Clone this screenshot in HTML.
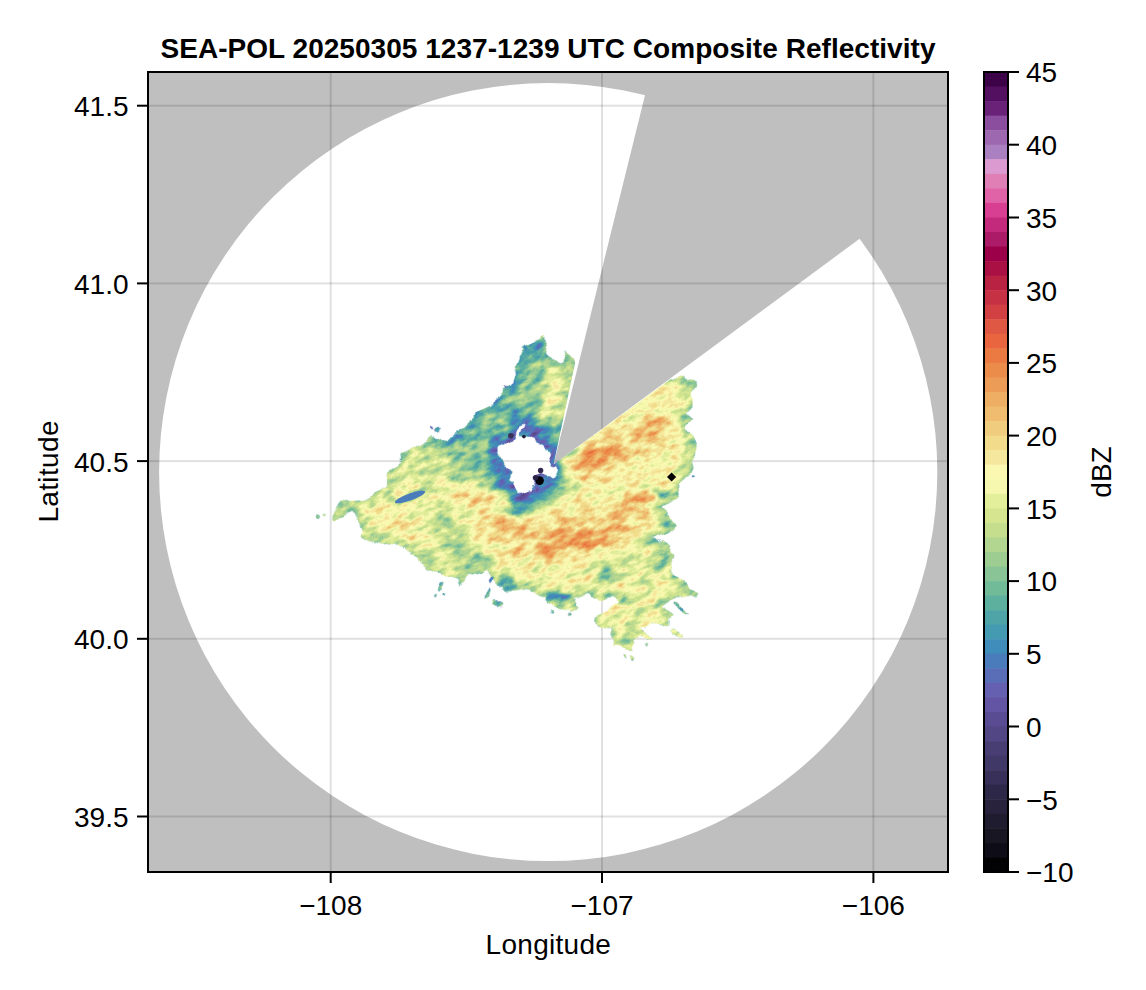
<!DOCTYPE html>
<html><head><meta charset="utf-8"><title>SEA-POL Composite Reflectivity</title>
<style>
html,body{margin:0;padding:0;background:#fff;}
body{width:1146px;height:990px;overflow:hidden;}
svg{display:block;}
text{font-family:"Liberation Sans",Arial,Helvetica,sans-serif;font-size:28px;fill:#000;}
.t{font-weight:bold;}
</style></head><body>
<svg width="1146" height="990" viewBox="0 0 1146 990">
<defs>
<clipPath id="ax"><rect x="148" y="72" width="800" height="800"/></clipPath>
</defs>
<rect width="1146" height="990" fill="#fff"/>

<g clip-path="url(#ax)">
<rect x="148" y="72" width="800" height="800" fill="#bfbfbf"/>
<ellipse cx="548.2" cy="472.1" rx="389.1" ry="389.0" fill="#fff"/>
<polygon points="553.6,464.5 672.1,-14.3 948,72 949.3,172.6" fill="#bfbfbf"/>
<rect x="329.7" y="72" width="2" height="800" fill="#000" fill-opacity="0.12"/>
<rect x="601.0" y="72" width="2" height="800" fill="#000" fill-opacity="0.12"/>
<rect x="872.4" y="72" width="2" height="800" fill="#000" fill-opacity="0.12"/>
<rect x="148" y="815.5" width="800" height="2" fill="#000" fill-opacity="0.12"/>
<rect x="148" y="637.8" width="800" height="2" fill="#000" fill-opacity="0.12"/>
<rect x="148" y="460.1" width="800" height="2" fill="#000" fill-opacity="0.12"/>
<rect x="148" y="282.4" width="800" height="2" fill="#000" fill-opacity="0.12"/>
<rect x="148" y="104.7" width="800" height="2" fill="#000" fill-opacity="0.12"/>
<defs>
<filter id="b3" x="-50%" y="-50%" width="200%" height="200%"><feGaussianBlur stdDeviation="3"/></filter>
<filter id="b5" x="-50%" y="-50%" width="200%" height="200%"><feGaussianBlur stdDeviation="5"/></filter>
<filter id="b8" x="-50%" y="-50%" width="200%" height="200%"><feGaussianBlur stdDeviation="8"/></filter>
<filter id="b12" x="-50%" y="-50%" width="200%" height="200%"><feGaussianBlur stdDeviation="12"/></filter>
<clipPath id="echoPoly"><path clip-rule="evenodd" d="M334.0 510.0 L349.0 501.5 L368.0 497.0 L385.0 488.0 L387.0 475.5 L401.0 463.0 L401.0 454.0 L413.5 450.5 L427.0 440.0 L445.0 438.0 L456.5 433.5 L468.0 422.0 L479.0 413.0 L490.5 408.5 L499.5 395.0 L513.0 381.0 L515.5 367.5 L521.0 358.5 L521.0 349.5 L533.5 342.5 L546.0 332.5 L548.0 345.0 L545.0 356.0 L561.0 363.0 L567.5 348.5 L574.5 365.5 L620.0 360.0 L676.5 379.5 L691.0 379.5 L693.5 388.0 L689.0 406.0 L684.5 410.5 L693.5 420.0 L688.0 426.5 L696.0 445.0 L694.5 458.5 L689.0 469.5 L679.0 483.0 L680.0 498.0 L660.5 509.5 L677.5 522.0 L674.0 529.0 L654.0 539.0 L665.0 546.0 L676.5 557.0 L674.0 571.0 L683.5 580.0 L688.0 591.0 L696.0 593.5 L694.5 599.0 L687.0 600.0 L679.0 594.5 L661.0 607.0 L674.0 620.5 L661.0 625.0 L642.5 629.5 L650.5 636.5 L633.5 639.0 L634.5 649.0 L613.0 643.5 L611.0 629.5 L599.5 620.5 L608.5 607.0 L619.8 602.5 L611.0 599.0 L592.5 600.0 L586.0 593.5 L574.5 598.0 L579.0 607.0 L572.0 609.0 L545.0 606.0 L542.7 595.7 L533.6 589.0 L520.0 586.6 L508.0 590.0 L499.5 588.0 L493.0 580.0 L484.0 568.5 L468.0 573.0 L459.0 586.5 L456.5 580.0 L440.5 575.5 L430.5 567.5 L422.5 559.5 L411.0 553.5 L397.5 544.5 L378.5 544.5 L364.5 535.5 L362.5 525.5 L349.0 516.5 L334.0 517.5Z M523.0 424.8 L518.7 424.8 L516.7 439.9 L506.4 441.9 L500.2 451.2 L503.2 462.5 L504.2 469.7 L511.5 476.0 L509.4 483.1 L515.7 485.1 L520.8 494.4 L532.1 491.4 L534.1 484.1 L533.1 477.0 L539.3 472.8 L545.4 477.0 L551.7 476.0 L555.7 469.7 L553.7 464.5 L547.6 464.5 L550.6 452.2 L543.4 440.9 L535.1 441.9 L522.8 436.8Z"/></clipPath>
<clipPath id="noWedge"><path d="M300 300 H588.5 L553.6 464.5 L800 284.7 V700 H300 Z"/></clipPath>
<filter id="cm" filterUnits="userSpaceOnUse" x="250" y="220" width="560" height="520" color-interpolation-filters="sRGB">
<feTurbulence type="fractalNoise" baseFrequency="0.075 0.15" numOctaves="3" seed="7" result="t"/>
<feColorMatrix in="t" type="matrix" values="1 0 0 0 0  1 0 0 0 0  1 0 0 0 0  0 0 0 0 1" result="n"/>
<feTurbulence type="fractalNoise" baseFrequency="0.05" numOctaves="2" seed="3" result="t2"/>
<feDisplacementMap in="SourceGraphic" in2="t2" scale="16" xChannelSelector="R" yChannelSelector="G" result="sg"/>
<feColorMatrix in="sg" type="matrix" values="0 0 0 0 0  0 0 0 0 0  0 0 0 0 0  0 0 0 1 0" result="sa"/>
<feComposite in="sg" in2="n" operator="arithmetic" k1="0" k2="1" k3="0.24" k4="-0.12" result="f"/>
<feComponentTransfer in="f" result="c">
<feFuncR type="discrete" tableValues="0.008 0.055 0.094 0.125 0.157 0.180 0.220 0.251 0.282 0.322 0.353 0.392 0.400 0.353 0.290 0.251 0.267 0.306 0.369 0.447 0.533 0.620 0.698 0.769 0.839 0.894 0.961 0.984 0.961 0.949 0.941 0.941 0.933 0.925 0.925 0.922 0.910 0.875 0.827 0.776 0.725 0.671 0.608 0.671 0.769 0.847 0.878 0.878 0.863 0.671 0.616 0.545 0.416 0.329 0.239"/>
<feFuncG type="discrete" tableValues="0.008 0.047 0.086 0.110 0.133 0.157 0.188 0.220 0.243 0.275 0.298 0.329 0.376 0.431 0.486 0.549 0.604 0.643 0.690 0.733 0.769 0.804 0.839 0.871 0.902 0.937 0.973 0.973 0.910 0.863 0.800 0.737 0.682 0.612 0.549 0.478 0.396 0.345 0.251 0.196 0.133 0.063 0.000 0.106 0.165 0.247 0.388 0.498 0.608 0.502 0.408 0.306 0.133 0.063 0.012"/>
<feFuncB type="discrete" tableValues="0.016 0.086 0.133 0.188 0.235 0.282 0.345 0.400 0.455 0.518 0.573 0.643 0.690 0.722 0.737 0.729 0.690 0.651 0.620 0.596 0.588 0.573 0.565 0.557 0.565 0.612 0.682 0.698 0.620 0.549 0.494 0.439 0.392 0.337 0.294 0.259 0.247 0.263 0.267 0.267 0.263 0.271 0.282 0.408 0.486 0.573 0.659 0.710 0.816 0.753 0.690 0.620 0.471 0.376 0.286"/>
</feComponentTransfer>
<feComposite in="c" in2="sa" operator="in"/>
</filter>
</defs>
<g clip-path="url(#noWedge)"><g transform="rotate(-24 550 470)"><g filter="url(#cm)"><g transform="rotate(24 550 470)">
<g clip-path="url(#echoPoly)">
<rect x="300" y="300" width="460" height="380" fill="#808080"/>
<path d="M334.0 510.0 L349.0 501.5 L368.0 497.0 L385.0 488.0 L387.0 475.5 L401.0 463.0 L401.0 454.0 L413.5 450.5 L427.0 440.0 L445.0 438.0 L456.5 433.5 L468.0 422.0 L479.0 413.0 L490.5 408.5 L499.5 395.0 L513.0 381.0 L515.5 367.5 L521.0 358.5 L521.0 349.5 L533.5 342.5 L546.0 332.5 L548.0 345.0 L545.0 356.0 L561.0 363.0 L567.5 348.5 L574.5 365.5 L620.0 360.0 L676.5 379.5 L691.0 379.5 L693.5 388.0 L689.0 406.0 L684.5 410.5 L693.5 420.0 L688.0 426.5 L696.0 445.0 L694.5 458.5 L689.0 469.5 L679.0 483.0 L680.0 498.0 L660.5 509.5 L677.5 522.0 L674.0 529.0 L654.0 539.0 L665.0 546.0 L676.5 557.0 L674.0 571.0 L683.5 580.0 L688.0 591.0 L696.0 593.5 L694.5 599.0 L687.0 600.0 L679.0 594.5 L661.0 607.0 L674.0 620.5 L661.0 625.0 L642.5 629.5 L650.5 636.5 L633.5 639.0 L634.5 649.0 L613.0 643.5 L611.0 629.5 L599.5 620.5 L608.5 607.0 L619.8 602.5 L611.0 599.0 L592.5 600.0 L586.0 593.5 L574.5 598.0 L579.0 607.0 L572.0 609.0 L545.0 606.0 L542.7 595.7 L533.6 589.0 L520.0 586.6 L508.0 590.0 L499.5 588.0 L493.0 580.0 L484.0 568.5 L468.0 573.0 L459.0 586.5 L456.5 580.0 L440.5 575.5 L430.5 567.5 L422.5 559.5 L411.0 553.5 L397.5 544.5 L378.5 544.5 L364.5 535.5 L362.5 525.5 L349.0 516.5 L334.0 517.5Z" fill="none" stroke="#666666" stroke-width="14" filter="url(#b5)"/>
<polygon points="430.0,450.0 546.0,325.0 585.0,360.0 560.0,450.0 540.0,505.0 480.0,505.0 450.0,480.0" fill="#616161" filter="url(#b8)" opacity="1"/>
<ellipse cx="552" cy="398" rx="12" ry="36" transform="rotate(14 552 398)" fill="#797979" filter="url(#b5)" opacity="1"/>
<polyline points="440.0,445.0 470.0,422.0 497.0,398.0 515.0,370.0 522.0,350.0" fill="none" stroke="#4c4c4c" stroke-width="14" stroke-linecap="round" stroke-linejoin="round" filter="url(#b5)" opacity="1"/>
<ellipse cx="535" cy="347" rx="12" ry="9" transform="rotate(0 535 347)" fill="#464646" filter="url(#b3)" opacity="1"/>
<ellipse cx="430" cy="470" rx="30" ry="18" transform="rotate(-25 430 470)" fill="#6f6f6f" filter="url(#b8)" opacity="1"/>
<path d="M523.0 424.8 L518.7 424.8 L516.7 439.9 L506.4 441.9 L500.2 451.2 L503.2 462.5 L504.2 469.7 L511.5 476.0 L509.4 483.1 L515.7 485.1 L520.8 494.4 L532.1 491.4 L534.1 484.1 L533.1 477.0 L539.3 472.8 L545.4 477.0 L551.7 476.0 L555.7 469.7 L553.7 464.5 L547.6 464.5 L550.6 452.2 L543.4 440.9 L535.1 441.9 L522.8 436.8Z" fill="none" stroke="#5d5d5d" stroke-width="46" stroke-linejoin="round" filter="url(#b5)"/>
<path d="M523.0 424.8 L518.7 424.8 L516.7 439.9 L506.4 441.9 L500.2 451.2 L503.2 462.5 L504.2 469.7 L511.5 476.0 L509.4 483.1 L515.7 485.1 L520.8 494.4 L532.1 491.4 L534.1 484.1 L533.1 477.0 L539.3 472.8 L545.4 477.0 L551.7 476.0 L555.7 469.7 L553.7 464.5 L547.6 464.5 L550.6 452.2 L543.4 440.9 L535.1 441.9 L522.8 436.8Z" fill="none" stroke="#4a4a4a" stroke-width="22" stroke-linejoin="round" filter="url(#b3)"/>
<path d="M523.0 424.8 L518.7 424.8 L516.7 439.9 L506.4 441.9 L500.2 451.2 L503.2 462.5 L504.2 469.7 L511.5 476.0 L509.4 483.1 L515.7 485.1 L520.8 494.4 L532.1 491.4 L534.1 484.1 L533.1 477.0 L539.3 472.8 L545.4 477.0 L551.7 476.0 L555.7 469.7 L553.7 464.5 L547.6 464.5 L550.6 452.2 L543.4 440.9 L535.1 441.9 L522.8 436.8Z" fill="none" stroke="#3a3a3a" stroke-width="8" stroke-linejoin="round" filter="url(#b3)"/>
<ellipse cx="615" cy="450" rx="58" ry="16" transform="rotate(-24 615 450)" fill="#8d8d8d" filter="url(#b8)" opacity="1"/>
<ellipse cx="592" cy="461" rx="28" ry="9" transform="rotate(-22 592 461)" fill="#9b9b9b" filter="url(#b5)" opacity="1"/>
<ellipse cx="655" cy="430" rx="16" ry="9" transform="rotate(-30 655 430)" fill="#929292" filter="url(#b5)" opacity="1"/>
<ellipse cx="668" cy="395" rx="14" ry="10" transform="rotate(0 668 395)" fill="#828282" filter="url(#b5)" opacity="1"/>
<ellipse cx="565" cy="533" rx="85" ry="17" transform="rotate(-4 565 533)" fill="#8b8b8b" filter="url(#b8)" opacity="1"/>
<ellipse cx="580" cy="540" rx="46" ry="10" transform="rotate(-14 580 540)" fill="#9b9b9b" filter="url(#b5)" opacity="1"/>
<ellipse cx="620" cy="515" rx="30" ry="8" transform="rotate(-25 620 515)" fill="#909090" filter="url(#b5)" opacity="1"/>
<ellipse cx="505" cy="525" rx="25" ry="8" transform="rotate(10 505 525)" fill="#909090" filter="url(#b5)" opacity="1"/>
<ellipse cx="478" cy="498" rx="30" ry="9" transform="rotate(12 478 498)" fill="#909090" filter="url(#b5)" opacity="1"/>
<ellipse cx="640" cy="500" rx="14" ry="7" transform="rotate(-10 640 500)" fill="#949494" filter="url(#b3)" opacity="1"/>
<ellipse cx="450" cy="535" rx="16" ry="36" transform="rotate(-22 450 535)" fill="#666666" filter="url(#b8)" opacity="1"/>
<ellipse cx="478" cy="560" rx="14" ry="8" transform="rotate(0 478 560)" fill="#5d5d5d" filter="url(#b5)" opacity="1"/>
<ellipse cx="625" cy="570" rx="40" ry="22" transform="rotate(0 625 570)" fill="#747474" filter="url(#b8)" opacity="1"/>
<ellipse cx="607" cy="574" rx="8" ry="8" transform="rotate(0 607 574)" fill="#585858" filter="url(#b3)" opacity="1"/>
<ellipse cx="662" cy="560" rx="8" ry="10" transform="rotate(0 662 560)" fill="#616161" filter="url(#b3)" opacity="1"/>
<ellipse cx="660" cy="492" rx="7" ry="5" transform="rotate(0 660 492)" fill="#535353" filter="url(#b3)" opacity="1"/>
<ellipse cx="668" cy="522" rx="7" ry="5" transform="rotate(0 668 522)" fill="#585858" filter="url(#b3)" opacity="1"/>
<ellipse cx="643" cy="542" rx="10" ry="5" transform="rotate(-20 643 542)" fill="#5d5d5d" filter="url(#b3)" opacity="1"/>
<ellipse cx="689" cy="419" rx="3" ry="2.5" transform="rotate(0 689 419)" fill="#535353" filter="url(#b3)" opacity="1"/>
<ellipse cx="691" cy="446" rx="3" ry="4" transform="rotate(0 691 446)" fill="#4f4f4f" filter="url(#b3)" opacity="1"/>
<ellipse cx="688" cy="468" rx="2.5" ry="2.5" transform="rotate(0 688 468)" fill="#4a4a4a" filter="url(#b3)" opacity="1"/>
<ellipse cx="660.7" cy="493.6" rx="5" ry="3" transform="rotate(-20 660.7 493.6)" fill="#464646" filter="url(#b3)" opacity="1"/>
<ellipse cx="557" cy="597" rx="15" ry="5" transform="rotate(0 557 597)" fill="#414141" filter="url(#b3)" opacity="1"/>
<ellipse cx="625" cy="599" rx="5" ry="4" transform="rotate(0 625 599)" fill="#414141" filter="url(#b3)" opacity="1"/>
<ellipse cx="505" cy="582" rx="6" ry="6" transform="rotate(0 505 582)" fill="#4a4a4a" filter="url(#b3)" opacity="1"/>
<ellipse cx="635" cy="622" rx="28" ry="18" transform="rotate(0 635 622)" fill="#7b7b7b" filter="url(#b5)" opacity="1"/>
<ellipse cx="628" cy="632" rx="6" ry="10" transform="rotate(20 628 632)" fill="#616161" filter="url(#b3)" opacity="1"/>
<ellipse cx="640" cy="612" rx="4" ry="6" transform="rotate(0 640 612)" fill="#616161" filter="url(#b3)" opacity="1"/>
<ellipse cx="615" cy="615" rx="10" ry="4" transform="rotate(0 615 615)" fill="#8b8b8b" filter="url(#b3)" opacity="1"/>
<ellipse cx="410" cy="497" rx="16" ry="3.6" transform="rotate(-20 410 497)" fill="#424242" filter="url(#b3)" opacity="1"/>
</g>
<ellipse cx="317.5" cy="516.5" rx="2.5" ry="2.5" transform="rotate(0 317.5 516.5)" fill="#616161"/>
<ellipse cx="325" cy="511" rx="2.5" ry="1.5" transform="rotate(0 325 511)" fill="#6b6b6b"/>
<ellipse cx="436" cy="432" rx="3" ry="2" transform="rotate(-40 436 432)" fill="#535353"/>
<ellipse cx="431" cy="430" rx="1.5" ry="3" transform="rotate(-15 431 430)" fill="#464646"/>
<ellipse cx="438.5" cy="586" rx="2" ry="5" transform="rotate(35 438.5 586)" fill="#585858"/>
<ellipse cx="445" cy="593" rx="2" ry="2" transform="rotate(0 445 593)" fill="#585858"/>
<ellipse cx="433" cy="596" rx="2" ry="2.5" transform="rotate(30 433 596)" fill="#535353"/>
<ellipse cx="488" cy="594" rx="3" ry="5" transform="rotate(20 488 594)" fill="#585858"/>
<ellipse cx="499" cy="604" rx="4" ry="3.5" transform="rotate(0 499 604)" fill="#616161"/>
<ellipse cx="492" cy="582" rx="2" ry="4" transform="rotate(30 492 582)" fill="#464646"/>
<ellipse cx="570.5" cy="613.5" rx="2" ry="2" transform="rotate(0 570.5 613.5)" fill="#616161"/>
<ellipse cx="575" cy="609" rx="5" ry="2" transform="rotate(0 575 609)" fill="#6b6b6b"/>
<ellipse cx="551" cy="614" rx="2" ry="2" transform="rotate(0 551 614)" fill="#616161"/>
<ellipse cx="682" cy="607" rx="8" ry="2.5" transform="rotate(38 682 607)" fill="#585858"/>
<ellipse cx="676" cy="632" rx="7" ry="3.5" transform="rotate(35 676 632)" fill="#747474"/>
<ellipse cx="643.5" cy="644.5" rx="2" ry="2" transform="rotate(0 643.5 644.5)" fill="#6f6f6f"/>
<ellipse cx="622" cy="655.5" rx="1.5" ry="2" transform="rotate(0 622 655.5)" fill="#6b6b6b"/>
<ellipse cx="632" cy="655" rx="3" ry="2" transform="rotate(20 632 655)" fill="#747474"/>
<ellipse cx="692" cy="474" rx="2" ry="1.5" transform="rotate(0 692 474)" fill="#4f4f4f"/>
<ellipse cx="524" cy="350" rx="2" ry="2" transform="rotate(0 524 350)" fill="#414141"/>
<ellipse cx="505" cy="388" rx="1.5" ry="1" transform="rotate(0 505 388)" fill="#3c3c3c"/>
</g></g></g></g>
<ellipse cx="410" cy="497" rx="16" ry="3.4" transform="rotate(-20 410 497)" fill="#4a7cbc"/>
<circle cx="539.6" cy="480.6" r="4.3" fill="#05030a"/>
<circle cx="535.5" cy="477.5" r="2.6" fill="#2a2244"/>
<circle cx="540.6" cy="470.4" r="2.7" fill="#33294e"/>
<circle cx="510.8" cy="435.8" r="2.8" fill="#3a3058"/>
<circle cx="523.9" cy="436.6" r="1.8" fill="#241d36"/>
<polygon points="671.6,472.6 676.2,477 671.6,481.4 667,477" fill="#000"/>
</g>
<rect x="148" y="72" width="800" height="800" fill="none" stroke="#000" stroke-width="2"/>
<rect x="329.7" y="872" width="2" height="11" fill="#000"/>
<text x="330.7" y="914.5" text-anchor="middle">−108</text>
<rect x="601.0" y="872" width="2" height="11" fill="#000"/>
<text x="602.0" y="914.5" text-anchor="middle">−107</text>
<rect x="872.4" y="872" width="2" height="11" fill="#000"/>
<text x="873.4" y="914.5" text-anchor="middle">−106</text>
<rect x="137" y="815.5" width="11" height="2" fill="#000"/>
<text x="128.5" y="826.9" text-anchor="end">39.5</text>
<rect x="137" y="637.8" width="11" height="2" fill="#000"/>
<text x="128.5" y="649.2" text-anchor="end">40.0</text>
<rect x="137" y="460.1" width="11" height="2" fill="#000"/>
<text x="128.5" y="471.5" text-anchor="end">40.5</text>
<rect x="137" y="282.4" width="11" height="2" fill="#000"/>
<text x="128.5" y="293.8" text-anchor="end">41.0</text>
<rect x="137" y="104.7" width="11" height="2" fill="#000"/>
<text x="128.5" y="116.1" text-anchor="end">41.5</text>
<text x="548.4" y="953.5" text-anchor="middle" letter-spacing="0.3">Longitude</text>
<text transform="translate(58,471.4) rotate(-90)" text-anchor="middle" letter-spacing="0.35">Latitude</text>
<text class="t" x="548" y="57.8" text-anchor="middle" letter-spacing="0.04">SEA-POL 20250305 1237-1239 UTC Composite Reflectivity</text>
<rect x="984" y="72.00" width="24" height="15.05" fill="#3d0349"/>
<rect x="984" y="86.55" width="24" height="15.05" fill="#541060"/>
<rect x="984" y="101.09" width="24" height="15.05" fill="#6a2278"/>
<rect x="984" y="115.64" width="24" height="15.05" fill="#8b4e9e"/>
<rect x="984" y="130.18" width="24" height="15.05" fill="#9d68b0"/>
<rect x="984" y="144.73" width="24" height="15.05" fill="#ab80c0"/>
<rect x="984" y="159.27" width="24" height="15.05" fill="#dc9bd0"/>
<rect x="984" y="173.82" width="24" height="15.05" fill="#e07fb5"/>
<rect x="984" y="188.36" width="24" height="15.05" fill="#e063a8"/>
<rect x="984" y="202.91" width="24" height="15.05" fill="#d83f92"/>
<rect x="984" y="217.45" width="24" height="15.05" fill="#c42a7c"/>
<rect x="984" y="232.00" width="24" height="15.05" fill="#ab1b68"/>
<rect x="984" y="246.55" width="24" height="15.05" fill="#9b0048"/>
<rect x="984" y="261.09" width="24" height="15.05" fill="#ab1045"/>
<rect x="984" y="275.64" width="24" height="15.05" fill="#b92243"/>
<rect x="984" y="290.18" width="24" height="15.05" fill="#c63244"/>
<rect x="984" y="304.73" width="24" height="15.05" fill="#d34044"/>
<rect x="984" y="319.27" width="24" height="15.05" fill="#df5843"/>
<rect x="984" y="333.82" width="24" height="15.05" fill="#e8653f"/>
<rect x="984" y="348.36" width="24" height="15.05" fill="#eb7a42"/>
<rect x="984" y="362.91" width="24" height="15.05" fill="#ec8c4b"/>
<rect x="984" y="377.45" width="24" height="15.05" fill="#ec9c56"/>
<rect x="984" y="392.00" width="24" height="15.05" fill="#eeae64"/>
<rect x="984" y="406.55" width="24" height="15.05" fill="#f0bc70"/>
<rect x="984" y="421.09" width="24" height="15.05" fill="#f0cc7e"/>
<rect x="984" y="435.64" width="24" height="15.05" fill="#f2dc8c"/>
<rect x="984" y="450.18" width="24" height="15.05" fill="#f5e89e"/>
<rect x="984" y="464.73" width="24" height="15.05" fill="#fbf8b2"/>
<rect x="984" y="479.27" width="24" height="15.05" fill="#f5f8ae"/>
<rect x="984" y="493.82" width="24" height="15.05" fill="#e4ef9c"/>
<rect x="984" y="508.36" width="24" height="15.05" fill="#d6e690"/>
<rect x="984" y="522.91" width="24" height="15.05" fill="#c4de8e"/>
<rect x="984" y="537.45" width="24" height="15.05" fill="#b2d690"/>
<rect x="984" y="552.00" width="24" height="15.05" fill="#9ecd92"/>
<rect x="984" y="566.55" width="24" height="15.05" fill="#88c496"/>
<rect x="984" y="581.09" width="24" height="15.05" fill="#72bb98"/>
<rect x="984" y="595.64" width="24" height="15.05" fill="#5eb09e"/>
<rect x="984" y="610.18" width="24" height="15.05" fill="#4ea4a6"/>
<rect x="984" y="624.73" width="24" height="15.05" fill="#449ab0"/>
<rect x="984" y="639.27" width="24" height="15.05" fill="#408cba"/>
<rect x="984" y="653.82" width="24" height="15.05" fill="#4a7cbc"/>
<rect x="984" y="668.36" width="24" height="15.05" fill="#5a6eb8"/>
<rect x="984" y="682.91" width="24" height="15.05" fill="#6660b0"/>
<rect x="984" y="697.45" width="24" height="15.05" fill="#6454a4"/>
<rect x="984" y="712.00" width="24" height="15.05" fill="#5a4c92"/>
<rect x="984" y="726.55" width="24" height="15.05" fill="#524684"/>
<rect x="984" y="741.09" width="24" height="15.05" fill="#483e74"/>
<rect x="984" y="755.64" width="24" height="15.05" fill="#403866"/>
<rect x="984" y="770.18" width="24" height="15.05" fill="#383058"/>
<rect x="984" y="784.73" width="24" height="15.05" fill="#2e2848"/>
<rect x="984" y="799.27" width="24" height="15.05" fill="#28223c"/>
<rect x="984" y="813.82" width="24" height="15.05" fill="#201c30"/>
<rect x="984" y="828.36" width="24" height="15.05" fill="#181622"/>
<rect x="984" y="842.91" width="24" height="15.05" fill="#0e0c16"/>
<rect x="984" y="857.45" width="24" height="15.05" fill="#020204"/>
<rect x="984" y="72" width="24" height="800" fill="none" stroke="#000" stroke-width="2"/>
<rect x="1008" y="871.0" width="11" height="2" fill="#000"/>
<text x="1026" y="882.3">−10</text>
<rect x="1008" y="798.3" width="11" height="2" fill="#000"/>
<text x="1026" y="809.6">−5</text>
<rect x="1008" y="725.5" width="11" height="2" fill="#000"/>
<text x="1026" y="736.8">0</text>
<rect x="1008" y="652.8" width="11" height="2" fill="#000"/>
<text x="1026" y="664.1">5</text>
<rect x="1008" y="580.1" width="11" height="2" fill="#000"/>
<text x="1026" y="591.4">10</text>
<rect x="1008" y="507.4" width="11" height="2" fill="#000"/>
<text x="1026" y="518.7">15</text>
<rect x="1008" y="434.6" width="11" height="2" fill="#000"/>
<text x="1026" y="445.9">20</text>
<rect x="1008" y="361.9" width="11" height="2" fill="#000"/>
<text x="1026" y="373.2">25</text>
<rect x="1008" y="289.2" width="11" height="2" fill="#000"/>
<text x="1026" y="300.5">30</text>
<rect x="1008" y="216.5" width="11" height="2" fill="#000"/>
<text x="1026" y="227.8">35</text>
<rect x="1008" y="143.7" width="11" height="2" fill="#000"/>
<text x="1026" y="155.0">40</text>
<rect x="1008" y="71.0" width="11" height="2" fill="#000"/>
<text x="1026" y="82.3">45</text>
<text transform="translate(1110.7,472) rotate(-90)" text-anchor="middle">dBZ</text>
</svg></body></html>
